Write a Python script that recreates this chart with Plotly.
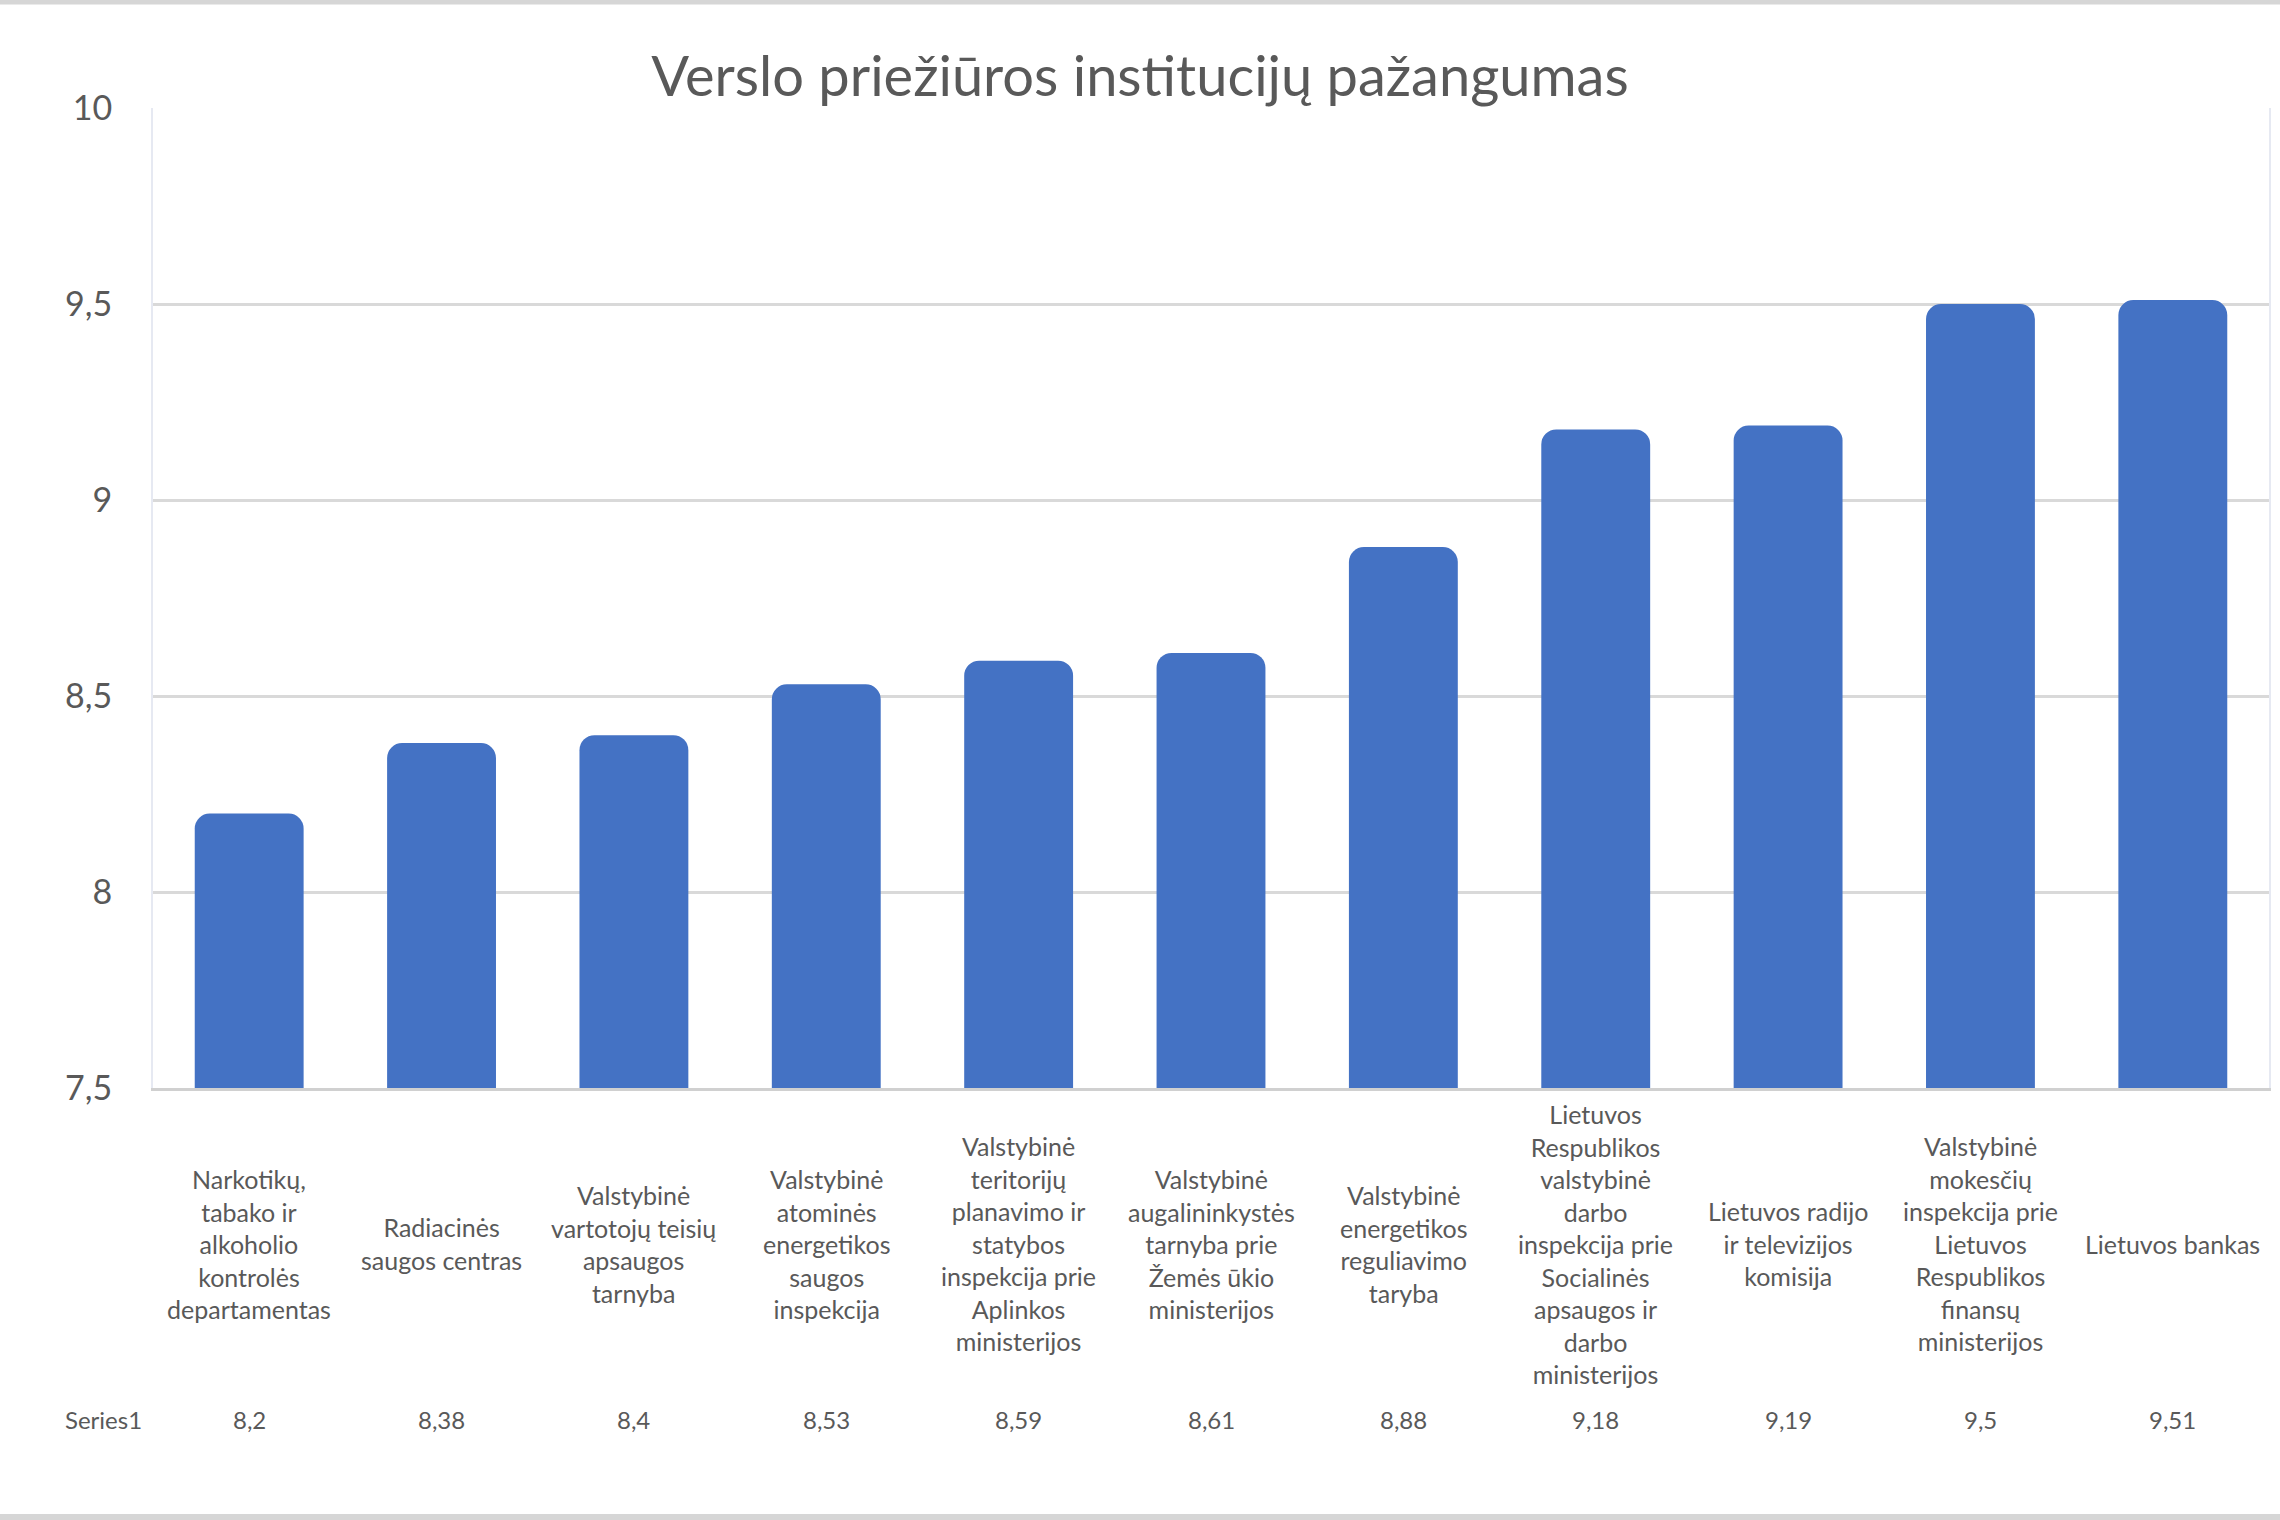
import plotly.graph_objects as go

title = "Verslo priežiūros institucijų pažangumas"
series_name = "Series1"
categories = [
    ["Narkotikų,", "tabako ir", "alkoholio", "kontrolės", "departamentas"],
    ["Radiacinės", "saugos centras"],
    ["Valstybinė", "vartotojų teisių", "apsaugos", "tarnyba"],
    ["Valstybinė", "atominės", "energetikos", "saugos", "inspekcija"],
    ["Valstybinė", "teritorijų", "planavimo ir", "statybos", "inspekcija prie", "Aplinkos", "ministerijos"],
    ["Valstybinė", "augalininkystės", "tarnyba prie", "Žemės ūkio", "ministerijos"],
    ["Valstybinė", "energetikos", "reguliavimo", "taryba"],
    ["Lietuvos", "Respublikos", "valstybinė", "darbo", "inspekcija prie", "Socialinės", "apsaugos ir", "darbo", "ministerijos"],
    ["Lietuvos radijo", "ir televizijos", "komisija"],
    ["Valstybinė", "mokesčių", "inspekcija prie", "Lietuvos", "Respublikos", "finansų", "ministerijos"],
    ["Lietuvos bankas"],
]
values = [8.2, 8.38, 8.4, 8.53, 8.59, 8.61, 8.88, 9.18, 9.19, 9.5, 9.51]
y_ticks = [7.5, 8, 8.5, 9, 9.5, 10]

keys = [" ".join(c) for c in categories]

FONT = "Lato"
TXT = "#595959"

fig = go.Figure()
fig.add_trace(go.Bar(
    x=keys, y=values,
    marker=dict(color="#4472C4", cornerradius=15, line=dict(width=0)),
    name=series_name,
))

annotations = []
for k, lines, v in zip(keys, categories, values):
    annotations.append(dict(
        x=k, xref="x", y=-0.159, yref="paper", text="<br>".join(lines),
        showarrow=False, xanchor="center", yanchor="middle", align="center",
        font=dict(family=FONT, size=25, color=TXT),
    ))
    annotations.append(dict(
        x=k, xref="x", y=-0.338, yref="paper", text=f"{v:g}".replace(".", ","),
        showarrow=False, xanchor="center", yanchor="middle",
        font=dict(family=FONT, size=24, color=TXT),
    ))
annotations.append(dict(
    x=-0.0236, xref="paper", y=-0.338, yref="paper", text=series_name,
    showarrow=False, xanchor="center", yanchor="middle",
    font=dict(family=FONT, size=24, color=TXT),
))

fig.update_layout(
    width=2280, height=1520,
    margin=dict(l=153, r=9, t=108, b=432),
    paper_bgcolor="white", plot_bgcolor="white",
    separators=", ",
    title=dict(text=title, x=0.5, xanchor="center", y=1 - 76 / 1520, yanchor="middle",
               font=dict(family=FONT, size=56, color=TXT)),
    bargap=0.434,
    showlegend=False,
    xaxis=dict(showticklabels=False, ticks="", showgrid=False, showline=True,
               linecolor="#d0d0d0", linewidth=3, zeroline=False),
    yaxis=dict(range=[7.5, 10], tickvals=y_ticks, showgrid=True, gridcolor="#d9d9d9",
               gridwidth=3, zeroline=False, showline=True, linecolor="#e6e9f2",
               linewidth=2, mirror=True, ticks="", ticklabelstandoff=32,
               tickfont=dict(family=FONT, size=34, color=TXT)),
    annotations=annotations,
)
fig.add_shape(type="line", xref="paper", yref="paper", x0=-0.08, x1=1.01,
              y0=(1088 - 2) / 980, y1=(1088 - 2) / 980, line=dict(color="#d6d6d6", width=5))
fig.add_shape(type="line", xref="paper", yref="paper", x0=-0.08, x1=1.01,
              y0=(1088 - 1517) / 980, y1=(1088 - 1517) / 980, line=dict(color="#d6d6d6", width=6))

fig.write_html("out.html")
